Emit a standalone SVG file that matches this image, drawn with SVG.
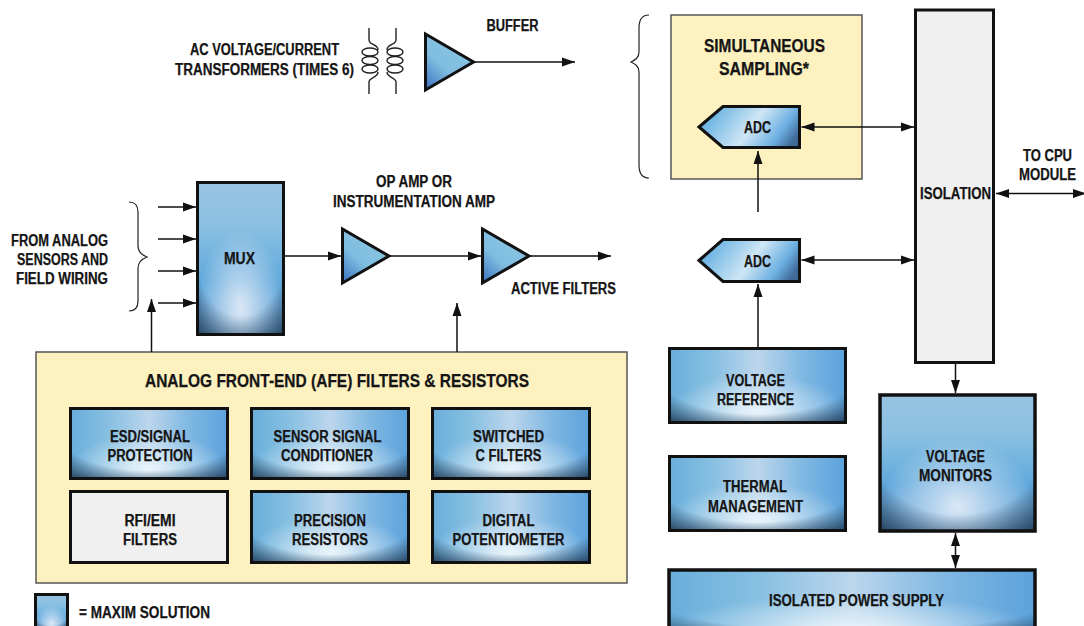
<svg xmlns="http://www.w3.org/2000/svg" width="1084" height="626" viewBox="0 0 1084 626">
<style>
text{font-family:"Liberation Sans",Arial,sans-serif;font-weight:700;font-size:16px;fill:#151515;stroke:#151515;stroke-width:.25;text-anchor:middle}
.box{fill:none;stroke:#111;stroke-width:3}
.yel{fill:#fdf1c0;stroke:#555;stroke-width:1.5}
.gry{fill:#f0f0f0;stroke:#111;stroke-width:3}
.a{fill:url(#ga);stroke:#111;stroke-width:3}
.tr{fill:url(#gtr);stroke:#111;stroke-width:3}
.c{fill:none;stroke:#111;stroke-width:1.5}
.b{fill:none;stroke:#222;stroke-width:1.2}
.k{fill:none;stroke:#222;stroke-width:1.4}
.big{font-size:17.5px}
</style>
<defs>
<linearGradient id="h1" x1="0" y1="0" x2="1" y2="0">
<stop offset="0" stop-color="#68aedb"/><stop offset="0.25" stop-color="#88c0e2"/><stop offset="0.5" stop-color="#bcd6ec"/><stop offset="0.75" stop-color="#80b8e2"/><stop offset="1" stop-color="#5ba2dc"/>
</linearGradient>
<radialGradient id="glow" cx="0.5" cy="0.85" r="0.5">
<stop offset="0" stop-color="#e8f4fb" stop-opacity="1"/><stop offset="0.4" stop-color="#e8f4fb" stop-opacity="0.55"/><stop offset="1" stop-color="#e8f4fb" stop-opacity="0"/>
</radialGradient>
<radialGradient id="dark" cx="0.5" cy="0.3" r="0.85">
<stop offset="0.68" stop-color="#24405c" stop-opacity="0"/><stop offset="1" stop-color="#24405c" stop-opacity="0.95"/>
</radialGradient>
<linearGradient id="v1" x1="0" y1="0" x2="0" y2="1">
<stop offset="0" stop-color="#98c4e2"/><stop offset="0.3" stop-color="#8ac0e2"/><stop offset="0.65" stop-color="#5fa8dc"/><stop offset="1" stop-color="#6ca4d4"/>
</linearGradient>
<radialGradient id="ga2" cx="0.5" cy="0.82" r="0.5">
<stop offset="0" stop-color="#dbe8f6" stop-opacity="1"/><stop offset="1" stop-color="#dbe8f6" stop-opacity="0"/>
</radialGradient>
<symbol id="sw" viewBox="0 0 100 100" preserveAspectRatio="none">
<rect width="100" height="100" fill="url(#h1)"/><rect width="100" height="100" fill="url(#glow)"/><rect width="100" height="100" fill="url(#dark)"/>
</symbol>
<symbol id="st" viewBox="0 0 100 100" preserveAspectRatio="none">
<rect width="100" height="100" fill="url(#v1)"/><rect width="100" height="100" fill="url(#ga2)"/><rect width="100" height="100" fill="url(#dark)"/>
</symbol>
<linearGradient id="ga" x1="0" y1="0.35" x2="1" y2="0.65">
<stop offset="0" stop-color="#5cace0"/><stop offset="0.52" stop-color="#cfe6f5"/><stop offset="0.82" stop-color="#6db0e2"/><stop offset="1" stop-color="#3f6a98"/>
</linearGradient>
<linearGradient id="gtr" x1="0.85" y1="0" x2="0.05" y2="1">
<stop offset="0" stop-color="#8cc9e4"/><stop offset="0.6" stop-color="#7fbce0"/><stop offset="1" stop-color="#3c74c0"/>
</linearGradient>
<marker id="ah" markerUnits="userSpaceOnUse" markerWidth="14" markerHeight="10" refX="13" refY="5" orient="auto-start-reverse">
<path d="M0 0.5L13 5L0 9.500Z" fill="#111"/>
</marker>
</defs>

<g id="transformer">
<path class="k" d="M369 28V40C369 45 378 44 378 50M369 94V82C369 77 378 78 378 72"/>
<ellipse class="k" cx="370" cy="52" rx="8" ry="4"/>
<ellipse class="k" cx="370" cy="60.500" rx="8" ry="4"/>
<ellipse class="k" cx="370" cy="69" rx="8" ry="4"/>
<path class="k" d="M396 28V40C396 45 387 44 387 50M396 94V82C396 77 387 78 387 72"/>
<ellipse class="k" cx="395" cy="52" rx="8" ry="4"/>
<ellipse class="k" cx="395" cy="60.500" rx="8" ry="4"/>
<ellipse class="k" cx="395" cy="69" rx="8" ry="4"/>
<text x="264.500" y="55" textLength="149" lengthAdjust="spacingAndGlyphs">AC VOLTAGE/CURRENT</text>
<text x="264.500" y="75" textLength="179" lengthAdjust="spacingAndGlyphs">TRANSFORMERS (TIMES 6)</text>
</g>

<g id="buffer"><path class="tr" d="M425.500 34L473.500 62L425.500 90Z"/><text x="512.500" y="31" textLength="52" lengthAdjust="spacingAndGlyphs">BUFFER</text></g>

<g id="brace-top"><path class="b" d="M649 15C642 15 639 20 639 28V52C639 58 635 60 631 62C635 64 639 66 639 72V165C639 173 642 178 649 178"/></g>
<g id="brace-left"><path class="b" d="M129 202C135 202 138 206 138 212V246C138 252 142 255 147 257C142 259 138 262 138 268V301C138 307 135 311 129 311"/></g>
<g id="from-analog"><text x="59.500" y="246" textLength="97" lengthAdjust="spacingAndGlyphs">FROM ANALOG</text>
<text x="62.500" y="265" textLength="91" lengthAdjust="spacingAndGlyphs">SENSORS AND</text>
<text x="62" y="284" textLength="92" lengthAdjust="spacingAndGlyphs">FIELD WIRING</text></g>

<g id="mux"><use href="#st" x="197" y="182" width="87" height="153"/><rect class="box" x="197.500" y="182.500" width="86" height="152"/><text x="239.500" y="264" textLength="31" lengthAdjust="spacingAndGlyphs">MUX</text></g>

<g id="opamp"><path class="tr" d="M342.500 229L389 256L342.500 283Z"/>
<text x="414" y="187" textLength="76" lengthAdjust="spacingAndGlyphs">OP AMP OR</text>
<text x="414" y="207" textLength="162" lengthAdjust="spacingAndGlyphs">INSTRUMENTATION AMP</text></g>
<g id="active-filters"><path class="tr" d="M482.500 229L529 256L482.500 283Z"/><text x="563.500" y="294" textLength="105" lengthAdjust="spacingAndGlyphs">ACTIVE FILTERS</text></g>

<g id="afe"><rect class="yel" x="36" y="352" width="591" height="231"/>
<text class="big" x="337" y="387" textLength="384" lengthAdjust="spacingAndGlyphs">ANALOG FRONT-END (AFE) FILTERS &amp; RESISTORS</text></g>
<g id="esd"><use href="#sw" x="70" y="408" width="158" height="71"/><rect class="box" x="70.500" y="408.500" width="157" height="70"/><text x="150" y="442" textLength="80" lengthAdjust="spacingAndGlyphs">ESD/SIGNAL</text><text x="150" y="461" textLength="85" lengthAdjust="spacingAndGlyphs">PROTECTION</text></g>
<g id="sensor"><use href="#sw" x="251" y="408" width="158" height="71"/><rect class="box" x="251.500" y="408.500" width="157" height="70"/><text x="327.500" y="442" textLength="108" lengthAdjust="spacingAndGlyphs">SENSOR SIGNAL</text><text x="327" y="461" textLength="92" lengthAdjust="spacingAndGlyphs">CONDITIONER</text></g>
<g id="switched"><use href="#sw" x="432" y="408" width="158" height="71"/><rect class="box" x="432.500" y="408.500" width="157" height="70"/><text x="508.500" y="442" textLength="71" lengthAdjust="spacingAndGlyphs">SWITCHED</text><text x="508.500" y="461" textLength="66" lengthAdjust="spacingAndGlyphs">C FILTERS</text></g>
<g id="rfi"><rect class="gry" x="70.500" y="491.500" width="157" height="71"/><text x="150" y="526" textLength="51" lengthAdjust="spacingAndGlyphs">RFI/EMI</text><text x="150" y="545" textLength="54" lengthAdjust="spacingAndGlyphs">FILTERS</text></g>
<g id="precision"><use href="#sw" x="251" y="491" width="158" height="72"/><rect class="box" x="251.500" y="491.500" width="157" height="71"/><text x="330" y="526" textLength="72" lengthAdjust="spacingAndGlyphs">PRECISION</text><text x="330" y="545" textLength="76" lengthAdjust="spacingAndGlyphs">RESISTORS</text></g>
<g id="digital"><use href="#sw" x="432" y="491" width="158" height="72"/><rect class="box" x="432.500" y="491.500" width="157" height="71"/><text x="508.500" y="526" textLength="52" lengthAdjust="spacingAndGlyphs">DIGITAL</text><text x="508.500" y="545" textLength="112" lengthAdjust="spacingAndGlyphs">POTENTIOMETER</text></g>

<g id="legend"><use href="#st" x="35" y="594" width="33" height="36"/><rect class="box" x="35.500" y="594.500" width="32" height="36"/><text x="144.500" y="618" textLength="131" lengthAdjust="spacingAndGlyphs">= MAXIM SOLUTION</text></g>

<g id="sampling"><rect class="yel" x="671" y="15" width="191" height="164"/>
<text class="big" x="764.500" y="52" textLength="121" lengthAdjust="spacingAndGlyphs">SIMULTANEOUS</text>
<text class="big" x="764" y="75" textLength="90" lengthAdjust="spacingAndGlyphs">SAMPLING*</text></g>
<g id="adc1"><path class="a" d="M699 127L723 106.500H799.500V147.500H723Z"/><text x="757.500" y="133" textLength="27" lengthAdjust="spacingAndGlyphs">ADC</text></g>
<g id="adc2"><path class="a" d="M699 260.500L723 239.500H799.500V281.500H723Z"/><text x="757.500" y="267" textLength="27" lengthAdjust="spacingAndGlyphs">ADC</text></g>
<g id="isolation"><rect class="gry" x="915.500" y="10" width="78" height="352.500"/><text x="955.500" y="199" textLength="71" lengthAdjust="spacingAndGlyphs">ISOLATION</text></g>
<g id="to-cpu"><text x="1047.500" y="161" textLength="49" lengthAdjust="spacingAndGlyphs">TO CPU</text><text x="1047.500" y="180" textLength="57" lengthAdjust="spacingAndGlyphs">MODULE</text></g>
<g id="vref"><use href="#sw" x="669" y="348" width="177" height="75"/><rect class="box" x="669.500" y="348.500" width="176" height="74"/><text x="755.500" y="386" textLength="59" lengthAdjust="spacingAndGlyphs">VOLTAGE</text><text x="755.500" y="405" textLength="77" lengthAdjust="spacingAndGlyphs">REFERENCE</text></g>
<g id="thermal"><use href="#sw" x="669" y="456" width="177" height="75"/><rect class="box" x="669.500" y="456.500" width="176" height="74"/><text x="755" y="492" textLength="64" lengthAdjust="spacingAndGlyphs">THERMAL</text><text x="755.500" y="512" textLength="95" lengthAdjust="spacingAndGlyphs">MANAGEMENT</text></g>
<g id="monitors"><use href="#st" x="880" y="395" width="155" height="136"/><rect class="box" x="880" y="395" width="155" height="136" style="stroke-width:3.500"/><text x="955.500" y="462" textLength="59" lengthAdjust="spacingAndGlyphs">VOLTAGE</text><text x="955.500" y="481" textLength="73" lengthAdjust="spacingAndGlyphs">MONITORS</text></g>
<g id="power"><use href="#sw" x="669" y="570" width="366" height="70"/><rect class="box" x="669" y="570" width="366" height="70" style="stroke-width:3.500"/><text x="856.500" y="606" textLength="175" lengthAdjust="spacingAndGlyphs">ISOLATED POWER SUPPLY</text></g>

<g id="connectors">
<path class="c" d="M473 62H575" marker-end="url(#ah)"/>
<path class="c" d="M158 207H196" marker-end="url(#ah)"/>
<path class="c" d="M158 239H196" marker-end="url(#ah)"/>
<path class="c" d="M158 271H196" marker-end="url(#ah)"/>
<path class="c" d="M158 303H196" marker-end="url(#ah)"/>
<path class="c" d="M151.500 352V299" marker-end="url(#ah)"/>
<path class="c" d="M457 352V303" marker-end="url(#ah)"/>
<path class="c" d="M285 256H341" marker-end="url(#ah)"/>
<path class="c" d="M389 256H481" marker-end="url(#ah)"/>
<path class="c" d="M529 256H611" marker-end="url(#ah)"/>
<path class="c" d="M801.500 127H914" marker-start="url(#ah)" marker-end="url(#ah)"/>
<path class="c" d="M801.500 260H914" marker-start="url(#ah)" marker-end="url(#ah)"/>
<path class="c" d="M996 193.500H1086" marker-start="url(#ah)" marker-end="url(#ah)"/>
<path class="c" d="M758 212V151" marker-end="url(#ah)"/>
<path class="c" d="M758 347V284" marker-end="url(#ah)"/>
<path class="c" d="M955.500 364V393" marker-end="url(#ah)"/>
<path class="c" d="M955.500 533V568" marker-start="url(#ah)" marker-end="url(#ah)"/>
</g>
</svg>
